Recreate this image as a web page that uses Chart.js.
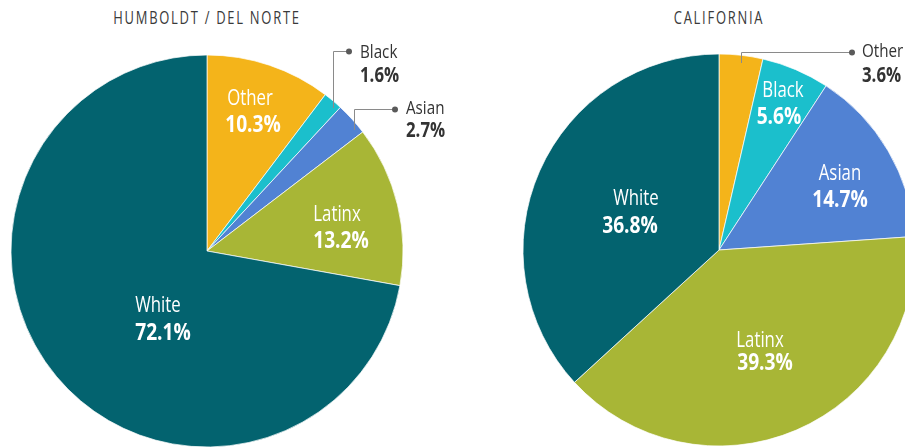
<!DOCTYPE html>
<html>
<head>
<meta charset="utf-8">
<script src="https://cdn.jsdelivr.net/npm/chart.js@4.4.1/dist/chart.umd.min.js"></script>
<style>
  body { margin:0; width:905px; height:447px; overflow:hidden; position:relative; background:#fff; }
  .title { position:absolute; top:5px; width:300px; text-align:center; font-family:'Open Sans',sans-serif;
           font-size:18px; letter-spacing:2.4px; color:#3a3a3a; transform:scaleX(0.72); }
  canvas { position:absolute; }
</style>
</head>
<body>
<div class="title" style="left:57px">HUMBOLDT / DEL NORTE</div>
<div class="title" style="left:569px">CALIFORNIA</div>
<canvas id="humboldtChart" width="480" height="440" style="left:-33px;top:31px"></canvas>
<canvas id="caChart" width="480" height="440" style="left:479px;top:30px"></canvas>
<script>
var categories = ['Other', 'Black', 'Asian', 'Latinx', 'White'];
var humboldtValues = [10.3, 1.6, 2.7, 13.2, 72.1];
var californiaValues = [3.6, 5.6, 14.7, 39.3, 36.8];
var colors = ['#F4B41A', '#1BBFCC', '#5182D3', '#A8B636', '#03636F'];

var FONT = "'Open Sans',sans-serif";
var SQUEEZE = 0.8;   // fake a condensed face

// label spots, offsets in px from the pie center
var humboldtLabels = [
  {i:0, name:[43,-146], val:[46,-119]},
  {i:3, name:[130,-30], val:[134,-3]},
  {i:4, name:[-49,61], val:[-44,89]},
  {i:1, out:true, anchor:[126,-143], elbowY:-200, dotX:142, tx:153, ny:-193, vy:-169},
  {i:2, out:true, anchor:[147,-121], elbowY:-142, dotX:188, tx:199, ny:-137, vy:-114}
];
var californiaLabels = [
  {i:1, name:[64,-153], val:[60,-126]},
  {i:2, name:[121,-70], val:[121,-43]},
  {i:4, name:[-83,-45], val:[-89,-17]},
  {i:3, name:[41,97], val:[46,120]},
  {i:0, out:true, anchor:[22,-187], elbowY:-198, dotX:133, tx:143, ny:-193, vy:-168}
];

function squeezedText(ctx, txt, x, y, align){
  ctx.save();
  ctx.translate(x, y);
  ctx.scale(SQUEEZE, 1);
  ctx.textAlign = align;
  ctx.textBaseline = 'alphabetic';
  ctx.fillText(txt, 0, 0);
  ctx.restore();
}

var sliceLabels = {
  id:'sliceLabels',
  afterDatasetsDraw(chart, args, opts){
    var ctx = chart.ctx;
    var arc = chart.getDatasetMeta(0).data[0];
    var cx = arc.x, cy = arc.y;
    var vals = chart.data.datasets[0].data;
    ctx.save();
    opts.items.forEach(function(l){
      var name = chart.data.labels[l.i];
      var val = vals[l.i].toFixed(1) + '%';
      if (l.out) {
        ctx.strokeStyle = '#8a8a8a';
        ctx.lineWidth = 1;
        ctx.beginPath();
        ctx.moveTo(cx + l.anchor[0] + 0.5, cy + l.anchor[1]);
        ctx.lineTo(cx + l.anchor[0] + 0.5, cy + l.elbowY + 0.5);
        ctx.lineTo(cx + l.dotX, cy + l.elbowY + 0.5);
        ctx.stroke();
        ctx.fillStyle = '#5a5a5a';
        ctx.beginPath();
        ctx.arc(cx + l.dotX, cy + l.elbowY + 0.5, 3, 0, Math.PI*2);
        ctx.fill();
        ctx.fillStyle = '#333';
        ctx.font = '19px ' + FONT;
        squeezedText(ctx, name, cx + l.tx, cy + l.ny, 'left');
        ctx.font = 'bold 21px ' + FONT;
        squeezedText(ctx, val, cx + l.tx, cy + l.vy, 'left');
      } else {
        ctx.fillStyle = '#fff';
        ctx.font = '21px ' + FONT;
        squeezedText(ctx, name, cx + l.name[0], cy + l.name[1], 'center');
        ctx.font = 'bold 24px ' + FONT;
        squeezedText(ctx, val, cx + l.val[0], cy + l.val[1], 'center');
      }
    });
    ctx.restore();
  }
};

function makePie(id, values, items){
  return new Chart(document.getElementById(id).getContext('2d'), {
    type:'pie',
    data:{
      labels:categories,
      datasets:[{
        data:values,
        backgroundColor:colors,
        borderColor:'rgba(255,255,255,0.7)',
        borderWidth:1,
        radius:196
      }]
    },
    options:{
      responsive:false,
      animation:false,
      layout:{padding:0},
      plugins:{
        legend:{display:false},
        tooltip:{enabled:false},
        sliceLabels:{items:items}
      }
    },
    plugins:[sliceLabels]
  });
}

makePie('humboldtChart', humboldtValues, humboldtLabels);
makePie('caChart', californiaValues, californiaLabels);
</script>
</body>
</html>
